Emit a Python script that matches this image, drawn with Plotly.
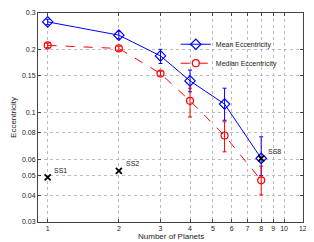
import math
import plotly.graph_objects as go

n_planets = [1, 2, 3, 4, 5.6, 8]
mean_ecc = [0.272, 0.235, 0.187, 0.142, 0.110, 0.0605]
mean_hi = [0.280, 0.245, 0.201, 0.160, 0.131, 0.0767]
mean_lo = [0.264, 0.226, 0.172, 0.126, 0.092, 0.050]
median_ecc = [0.210, 0.203, 0.154, 0.114, 0.0778, 0.0475]
median_hi = [0.215, 0.208, 0.158, 0.131, 0.0905, 0.0555]
median_lo = [0.205, 0.198, 0.150, 0.0954, 0.065, 0.0404]
ss_x = [1, 2, 8]
ss_y = [0.049, 0.0527, 0.0605]
ss_labels = ["SS1", "SS2", "SS8"]
x_ticks = [1, 2, 3, 4, 5, 6, 7, 8, 9, 10, 12]
y_ticks = [0.03, 0.04, 0.05, 0.06, 0.08, 0.1, 0.15, 0.2, 0.3]

FONT = "Liberation Sans, Arial, sans-serif"
BLUE = "#0000FF"
RED = "#FF0000"

fig = go.Figure()
fig.add_trace(go.Scatter(
    x=n_planets, y=mean_ecc, mode="lines+markers", name="Mean Eccentricity",
    line=dict(color=BLUE, width=1),
    marker=dict(symbol="diamond-open", size=8, color=BLUE, line=dict(width=1.2, color=BLUE)),
    error_y=dict(type="data", symmetric=False,
                 array=[h - m for h, m in zip(mean_hi, mean_ecc)],
                 arrayminus=[m - l for l, m in zip(mean_lo, mean_ecc)],
                 color=BLUE, thickness=1, width=2),
))
fig.add_trace(go.Scatter(
    x=n_planets, y=median_ecc, mode="lines+markers", name="Median Eccentricity",
    line=dict(color=RED, width=1, dash="dash"),
    marker=dict(symbol="circle-open", size=7, color=RED, line=dict(width=1.2, color=RED)),
    error_y=dict(type="data", symmetric=False,
                 array=[h - m for h, m in zip(median_hi, median_ecc)],
                 arrayminus=[m - l for l, m in zip(median_lo, median_ecc)],
                 color=RED, thickness=1, width=2),
))
fig.add_trace(go.Scatter(
    x=ss_x, y=ss_y, mode="markers", showlegend=False,
    marker=dict(symbol="x-thin", size=6, color="black", line=dict(width=1.8, color="black")),
))

for sx, sy, lab in zip(ss_x, ss_y, ss_labels):
    fig.add_annotation(x=math.log10(sx) + 0.02, y=math.log10(sy) + 0.035, text=lab,
                       showarrow=False, xanchor="left", yanchor="middle",
                       font=dict(family=FONT, size=7, color="#222"))

fig.add_annotation(x=0.5, y=-0.097, xref="paper", yref="paper", text="Number of Planets",
                   showarrow=False, xanchor="center", yanchor="bottom", borderpad=0,
                   font=dict(family=FONT, size=8, color="#222"))

axis_common = dict(
    showline=True, linecolor="#444", linewidth=1, mirror="ticks",
    ticks="inside", ticklen=3, tickcolor="#444", automargin=False,
    showgrid=True, gridcolor="#bbbbbb", griddash="dot", gridwidth=1,
    zeroline=False, tickfont=dict(family=FONT, size=7, color="#222"),
)

fig.update_xaxes(type="log", range=[math.log10(0.91), math.log10(12.02)],
                 tickvals=x_ticks, ticktext=[str(v) for v in x_ticks],
                 **axis_common)
fig.update_yaxes(type="log", range=[math.log10(0.03), math.log10(0.3)],
                 tickvals=y_ticks, ticktext=[str(v) for v in y_ticks],
                 title=dict(text="Eccentricity", font=dict(family=FONT, size=8, color="#222"), standoff=4),
                 **axis_common)

# page body adds an 8px offset; shrink the figure so the plot sits where the reference has it
fig.update_layout(
    width=306, height=234,
    margin=dict(l=30, r=11, t=5, b=20),
    paper_bgcolor="white", plot_bgcolor="white",
    font=dict(family=FONT, size=7, color="#222"),
    legend=dict(x=0.52, y=0.92, xanchor="left", yanchor="top",
                bgcolor="rgba(0,0,0,0)", borderwidth=0,
                font=dict(family=FONT, size=7, color="#222"),
                itemwidth=30, tracegroupgap=0),
)

fig.write_html("out.html")
